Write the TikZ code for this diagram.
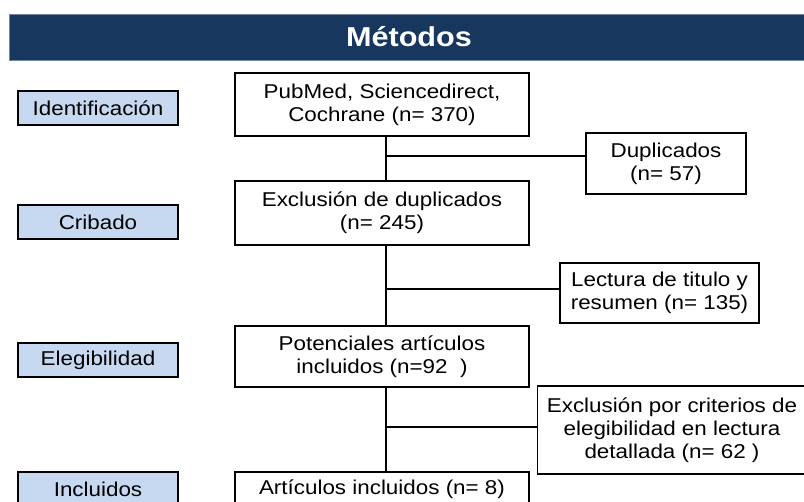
\documentclass[tikz,border=0pt]{standalone}
\usepackage{fontspec}
\setmainfont{Liberation Sans}[FakeStretch=1.12]
\definecolor{navy}{HTML}{17375E}
\definecolor{lblue}{HTML}{C6D9F1}
\tikzset{
  box/.style={draw=black, line width=1pt, fill=white, inner sep=0pt, align=center,
    font=\fontsize{15}{17.25}\selectfont},
  stagebox/.style={box, fill=lblue, minimum width=120pt, minimum height=25.5pt},
  mainbox/.style={box, minimum width=220.5pt},
  plaintext/.style={inner sep=0pt, align=center, font=\fontsize{15}{17.25}\selectfont},
  link/.style={draw=black, line width=1.2pt}
}
\begin{document}
\begin{tikzpicture}[x=0.75pt,y=-0.75pt]
\useasboundingbox (0,0) rectangle (804,501);
\clip (0,0) rectangle (804,501);
\fill[white] (0,0) rectangle (804,501);
% header
\node[fill=navy, draw=navy!60!white, line width=0.5pt, minimum width=600pt, minimum height=34.5pt, inner sep=0pt,
  text=white, font=\fontsize{20.5}{24}\selectfont\bfseries] (head) at (409,37) {Métodos};
% stages
\node[stagebox] (s1) at (98,108) {Identificación};
\node[stagebox] (s2) at (98,222) {Cribado};
\node[stagebox] (s3) at (98,360) {Elegibilidad};
\node[stagebox] (s4) at (98,489) {Incluidos};
% spine coordinate
\coordinate (spine) at (386,0);
\node[mainbox, minimum height=47.25pt] (b1) at (382,104.5) {PubMed, Sciencedirect,\\Cochrane (n= 370)};
\node[mainbox, minimum height=48pt] (b2) at (382,213) {Exclusión de duplicados\\(n= 245)};
\node[mainbox, minimum height=45.75pt] (b3) at (382,356.5) {Potenciales artículos\\incluidos (n=92~~)};
\node[mainbox, minimum height=25.5pt] (b4) at (382,489) {Artículos incluidos (n= 8)};
\node[box, minimum width=120pt, minimum height=45.75pt] (r1) at (666,163.5) {Duplicados\\(n= 57)};
\node[box, minimum width=149.25pt, minimum height=45pt] (r2) at (659.5,293) {Lectura de titulo y\\resumen (n= 135)};
\node[box, minimum width=225pt, minimum height=66pt, anchor=west] (r3) at (537,430) {};
\node[plaintext] (r3t) at (672,430) {Exclusión por criterios de\\elegibilidad en lectura\\detallada (n= 62 )};
% connectors
\coordinate (j1) at (386,156);
\coordinate (j2) at (386,289);
\coordinate (j3) at (386,427);
\draw[link] (b1.south -| spine) -- (b2.north -| spine);
\draw[link] (b2.south -| spine) -- (b3.north -| spine);
\draw[link] (b3.south -| spine) -- (b4.north -| spine);
\draw[link] (j1) -- (j1 -| r1.west);
\draw[link] (j2) -- (j2 -| r2.west);
\draw[link] (j3) -- (j3 -| r3.west);
\end{tikzpicture}
\end{document}
